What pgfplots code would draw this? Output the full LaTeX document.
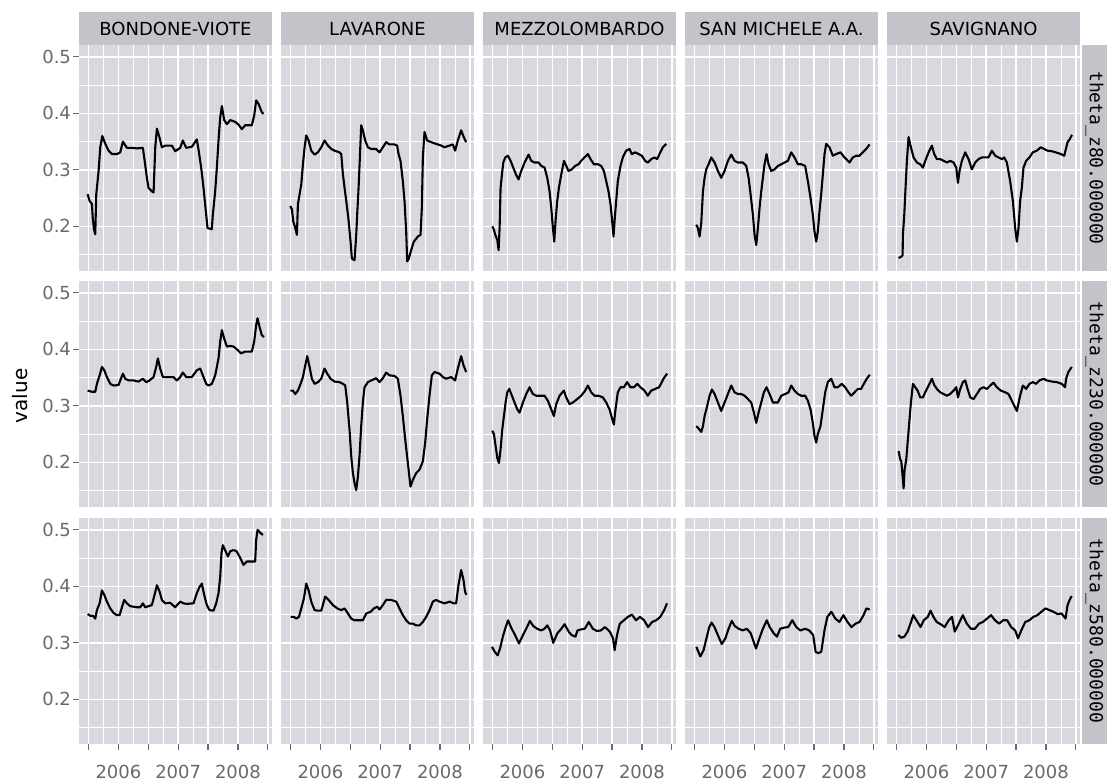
\documentclass[border=0pt]{standalone}
\usepackage{pgfplots}
\pgfplotsset{compat=1.18}
\usepackage{fontspec}
\setmainfont{DejaVu Sans}
\newfontfamily\monofont{DejaVu Sans Mono}
\definecolor{panelbg}{RGB}{217,216,222}
\definecolor{stripbg}{RGB}{196,195,202}
\definecolor{tickgray}{RGB}{105,105,105}
\pgfplotsset{
 panel/.style={
  scale only axis, width=96.5pt, height=113pt,
  anchor=south west,
  xmin=2005.34, xmax=2008.57, ymin=0.121, ymax=0.521,
  axis line style={draw=none},
  axis background/.style={fill=panelbg},
  xtick={2005.5,2006,2006.5,2007,2007.5,2008,2008.5},
  minor xtick={2005.75,2006.25,2006.75,2007.25,2007.75,2008.25},
  ytick={0.2,0.3,0.4,0.5},
  minor ytick={0.15,0.25,0.35,0.45},
  xticklabels={}, yticklabels={},
  grid=both,
  major grid style={draw=white, line width=0.75pt},
  minor grid style={draw=white, line width=0.35pt},
  tick align=outside, major tick length=3pt, minor tick length=0pt,
  xtick pos=left, ytick pos=left,
  xtick style={draw=none}, ytick style={draw=none},
  every minor tick/.append style={draw=none},
  tick label style={font=\fontsize{9pt}{10pt}\selectfont, text=tickgray},
  cycle list={{black, mark=none}},
  every axis plot post/.append style={draw=black, line width=1.05pt, line join=round},
 },
 leftcol/.style={yticklabels={0.2,0.3,0.4,0.5}, ytick style={draw=tickgray, line width=0.6pt}, yticklabel style={xshift=2.5pt}},
 bottomrow/.style={xticklabels={,2006,,2007,,2008,}, xtick style={draw=tickgray, line width=0.6pt}, xticklabel style={yshift=-4pt}},
}
\begin{document}
\begin{tikzpicture}
\useasboundingbox (0,0) rectangle (554pt,391.5pt);
% ---------- row 1: theta_z80 ----------
\begin{axis}[panel, leftcol, at={(39.5pt,256pt)}]
\addplot coordinates {(2005.484,0.257)(2005.517,0.245)(2005.556,0.240)(2005.570,0.215)(2005.590,0.195)(2005.612,0.186)(2005.629,0.257)(2005.668,0.298)(2005.696,0.340)(2005.730,0.360)(2005.780,0.346)(2005.835,0.334)(2005.891,0.328)(2005.974,0.328)(2006.030,0.331)(2006.075,0.350)(2006.142,0.339)(2006.225,0.339)(2006.309,0.338)(2006.409,0.339)(2006.431,0.322)(2006.476,0.286)(2006.504,0.268)(2006.560,0.262)(2006.588,0.260)(2006.616,0.340)(2006.644,0.373)(2006.688,0.357)(2006.727,0.340)(2006.783,0.343)(2006.894,0.343)(2006.950,0.333)(2007.034,0.339)(2007.078,0.352)(2007.134,0.339)(2007.229,0.341)(2007.312,0.354)(2007.340,0.336)(2007.385,0.304)(2007.424,0.268)(2007.457,0.233)(2007.491,0.197)(2007.563,0.195)(2007.580,0.221)(2007.619,0.262)(2007.647,0.304)(2007.675,0.352)(2007.703,0.393)(2007.731,0.413)(2007.770,0.388)(2007.815,0.381)(2007.870,0.388)(2007.954,0.385)(2008.010,0.380)(2008.065,0.372)(2008.121,0.379)(2008.232,0.379)(2008.272,0.396)(2008.305,0.423)(2008.344,0.417)(2008.400,0.402)(2008.428,0.399)};
\end{axis}
\begin{axis}[panel, at={(140.5pt,256pt)}]
\addplot coordinates {(2005.495,0.236)(2005.523,0.230)(2005.545,0.209)(2005.579,0.197)(2005.606,0.185)(2005.623,0.239)(2005.651,0.257)(2005.679,0.274)(2005.707,0.310)(2005.735,0.340)(2005.763,0.361)(2005.802,0.352)(2005.846,0.334)(2005.902,0.327)(2005.958,0.331)(2006.013,0.340)(2006.069,0.352)(2006.125,0.343)(2006.181,0.337)(2006.236,0.334)(2006.320,0.331)(2006.348,0.328)(2006.376,0.292)(2006.404,0.268)(2006.432,0.245)(2006.470,0.212)(2006.504,0.173)(2006.526,0.143)(2006.571,0.140)(2006.599,0.185)(2006.615,0.221)(2006.638,0.268)(2006.660,0.322)(2006.682,0.379)(2006.710,0.370)(2006.749,0.352)(2006.794,0.340)(2006.850,0.337)(2006.933,0.337)(2006.989,0.331)(2007.045,0.340)(2007.100,0.349)(2007.156,0.345)(2007.240,0.345)(2007.284,0.343)(2007.307,0.328)(2007.340,0.316)(2007.379,0.280)(2007.407,0.245)(2007.435,0.191)(2007.452,0.138)(2007.480,0.143)(2007.518,0.158)(2007.563,0.173)(2007.630,0.182)(2007.675,0.185)(2007.697,0.233)(2007.714,0.322)(2007.742,0.367)(2007.786,0.352)(2007.853,0.349)(2007.936,0.346)(2008.020,0.343)(2008.076,0.340)(2008.160,0.343)(2008.215,0.345)(2008.254,0.334)(2008.299,0.352)(2008.355,0.370)(2008.399,0.358)(2008.438,0.349)};
\end{axis}
\begin{axis}[panel, at={(241.5pt,256pt)}]
\addplot coordinates {(2005.495,0.200)(2005.523,0.194)(2005.545,0.185)(2005.579,0.176)(2005.601,0.158)(2005.618,0.197)(2005.634,0.268)(2005.657,0.292)(2005.679,0.313)(2005.712,0.322)(2005.757,0.325)(2005.802,0.316)(2005.846,0.304)(2005.891,0.292)(2005.935,0.283)(2005.980,0.298)(2006.036,0.313)(2006.103,0.327)(2006.147,0.316)(2006.203,0.313)(2006.270,0.313)(2006.315,0.307)(2006.371,0.304)(2006.415,0.286)(2006.454,0.262)(2006.482,0.233)(2006.510,0.197)(2006.532,0.173)(2006.554,0.209)(2006.582,0.245)(2006.610,0.268)(2006.650,0.292)(2006.695,0.316)(2006.734,0.307)(2006.771,0.298)(2006.827,0.301)(2006.883,0.307)(2006.939,0.310)(2006.983,0.316)(2007.039,0.322)(2007.095,0.328)(2007.140,0.319)(2007.195,0.310)(2007.262,0.310)(2007.318,0.307)(2007.363,0.298)(2007.402,0.280)(2007.440,0.262)(2007.474,0.239)(2007.502,0.209)(2007.524,0.182)(2007.546,0.215)(2007.569,0.245)(2007.596,0.280)(2007.641,0.307)(2007.680,0.322)(2007.736,0.334)(2007.791,0.337)(2007.831,0.328)(2007.887,0.331)(2007.943,0.328)(2007.998,0.325)(2008.054,0.316)(2008.098,0.313)(2008.154,0.319)(2008.210,0.322)(2008.254,0.319)(2008.294,0.328)(2008.349,0.340)(2008.405,0.346)};
\end{axis}
\begin{axis}[panel, at={(342.5pt,256pt)}]
\addplot coordinates {(2005.528,0.203)(2005.556,0.197)(2005.584,0.182)(2005.612,0.206)(2005.640,0.262)(2005.668,0.286)(2005.696,0.301)(2005.735,0.310)(2005.779,0.322)(2005.835,0.313)(2005.891,0.298)(2005.946,0.286)(2006.002,0.298)(2006.058,0.316)(2006.114,0.327)(2006.169,0.316)(2006.225,0.313)(2006.309,0.313)(2006.365,0.307)(2006.404,0.286)(2006.437,0.257)(2006.476,0.221)(2006.504,0.185)(2006.532,0.167)(2006.560,0.197)(2006.588,0.233)(2006.616,0.262)(2006.643,0.286)(2006.671,0.310)(2006.705,0.328)(2006.738,0.310)(2006.783,0.298)(2006.839,0.301)(2006.895,0.307)(2006.951,0.310)(2007.006,0.313)(2007.062,0.316)(2007.117,0.331)(2007.173,0.322)(2007.229,0.310)(2007.285,0.310)(2007.351,0.307)(2007.396,0.280)(2007.440,0.251)(2007.479,0.221)(2007.507,0.191)(2007.535,0.173)(2007.563,0.191)(2007.591,0.227)(2007.619,0.257)(2007.647,0.292)(2007.675,0.328)(2007.703,0.346)(2007.758,0.340)(2007.814,0.325)(2007.870,0.328)(2007.942,0.331)(2008.009,0.322)(2008.093,0.313)(2008.148,0.322)(2008.204,0.325)(2008.260,0.325)(2008.316,0.331)(2008.372,0.337)(2008.428,0.345)};
\end{axis}
\begin{axis}[panel, at={(443.5pt,256pt)}]
\addplot coordinates {(2005.534,0.144)(2005.573,0.146)(2005.601,0.149)(2005.606,0.185)(2005.629,0.221)(2005.645,0.257)(2005.673,0.316)(2005.701,0.358)(2005.740,0.340)(2005.785,0.322)(2005.841,0.313)(2005.896,0.310)(2005.941,0.304)(2005.980,0.316)(2006.036,0.331)(2006.091,0.343)(2006.130,0.328)(2006.175,0.319)(2006.231,0.319)(2006.287,0.316)(2006.342,0.313)(2006.398,0.316)(2006.454,0.313)(2006.499,0.304)(2006.527,0.277)(2006.554,0.298)(2006.593,0.316)(2006.649,0.331)(2006.705,0.319)(2006.760,0.301)(2006.816,0.313)(2006.872,0.319)(2006.928,0.322)(2006.983,0.322)(2007.039,0.322)(2007.095,0.334)(2007.151,0.325)(2007.206,0.322)(2007.262,0.319)(2007.301,0.322)(2007.346,0.313)(2007.401,0.280)(2007.446,0.245)(2007.485,0.197)(2007.513,0.173)(2007.541,0.197)(2007.568,0.245)(2007.596,0.268)(2007.624,0.304)(2007.669,0.316)(2007.724,0.322)(2007.780,0.331)(2007.847,0.334)(2007.914,0.340)(2007.969,0.337)(2008.025,0.334)(2008.098,0.333)(2008.163,0.331)(2008.250,0.328)(2008.306,0.325)(2008.334,0.337)(2008.362,0.349)(2008.401,0.355)(2008.435,0.362)};
\end{axis}
% ---------- row 2: theta_z230 ----------
\begin{axis}[panel, leftcol, at={(39.5pt,138pt)}]
\addplot coordinates {(2005.484,0.327)(2005.556,0.325)(2005.612,0.325)(2005.640,0.339)(2005.685,0.354)(2005.724,0.369)(2005.763,0.363)(2005.807,0.351)(2005.863,0.339)(2005.919,0.336)(2006.002,0.337)(2006.041,0.348)(2006.075,0.357)(2006.114,0.348)(2006.170,0.345)(2006.253,0.345)(2006.336,0.343)(2006.409,0.348)(2006.464,0.342)(2006.520,0.345)(2006.588,0.351)(2006.632,0.369)(2006.660,0.384)(2006.699,0.366)(2006.744,0.351)(2006.811,0.351)(2006.922,0.351)(2006.978,0.345)(2007.034,0.351)(2007.078,0.359)(2007.134,0.351)(2007.229,0.351)(2007.312,0.363)(2007.368,0.366)(2007.413,0.354)(2007.468,0.339)(2007.507,0.336)(2007.563,0.339)(2007.619,0.354)(2007.675,0.384)(2007.703,0.414)(2007.731,0.434)(2007.770,0.419)(2007.815,0.405)(2007.870,0.406)(2007.926,0.405)(2007.993,0.399)(2008.049,0.393)(2008.121,0.396)(2008.232,0.396)(2008.272,0.414)(2008.305,0.443)(2008.328,0.455)(2008.361,0.440)(2008.400,0.425)(2008.439,0.422)};
\end{axis}
\begin{axis}[panel, at={(140.5pt,138pt)}]
\addplot coordinates {(2005.495,0.327)(2005.540,0.327)(2005.579,0.321)(2005.623,0.327)(2005.668,0.339)(2005.707,0.351)(2005.735,0.366)(2005.779,0.388)(2005.818,0.369)(2005.857,0.348)(2005.902,0.339)(2005.958,0.342)(2006.013,0.348)(2006.069,0.366)(2006.114,0.357)(2006.170,0.348)(2006.236,0.343)(2006.320,0.342)(2006.376,0.339)(2006.415,0.336)(2006.448,0.306)(2006.487,0.258)(2006.515,0.211)(2006.543,0.181)(2006.571,0.163)(2006.599,0.151)(2006.627,0.175)(2006.654,0.211)(2006.682,0.264)(2006.710,0.306)(2006.738,0.333)(2006.794,0.342)(2006.850,0.345)(2006.933,0.349)(2006.989,0.342)(2007.045,0.349)(2007.100,0.359)(2007.156,0.354)(2007.240,0.353)(2007.296,0.348)(2007.340,0.318)(2007.379,0.282)(2007.418,0.241)(2007.463,0.199)(2007.507,0.157)(2007.546,0.169)(2007.602,0.181)(2007.658,0.187)(2007.714,0.202)(2007.753,0.235)(2007.786,0.276)(2007.825,0.318)(2007.864,0.354)(2007.909,0.360)(2007.992,0.357)(2008.048,0.351)(2008.104,0.348)(2008.188,0.351)(2008.254,0.345)(2008.299,0.366)(2008.355,0.388)(2008.394,0.372)(2008.438,0.360)};
\end{axis}
\begin{axis}[panel, at={(241.5pt,138pt)}]
\addplot coordinates {(2005.495,0.256)(2005.523,0.250)(2005.551,0.229)(2005.579,0.208)(2005.607,0.199)(2005.634,0.223)(2005.662,0.258)(2005.690,0.282)(2005.718,0.306)(2005.746,0.324)(2005.779,0.330)(2005.824,0.318)(2005.868,0.306)(2005.913,0.294)(2005.952,0.288)(2006.008,0.306)(2006.064,0.321)(2006.119,0.333)(2006.175,0.321)(2006.231,0.318)(2006.303,0.318)(2006.370,0.318)(2006.426,0.309)(2006.482,0.294)(2006.526,0.282)(2006.565,0.303)(2006.621,0.318)(2006.693,0.327)(2006.732,0.315)(2006.788,0.303)(2006.844,0.306)(2006.916,0.312)(2006.983,0.318)(2007.050,0.327)(2007.095,0.336)(2007.151,0.324)(2007.206,0.318)(2007.273,0.318)(2007.346,0.315)(2007.402,0.306)(2007.457,0.294)(2007.496,0.279)(2007.530,0.267)(2007.558,0.294)(2007.596,0.324)(2007.641,0.333)(2007.697,0.333)(2007.752,0.342)(2007.808,0.333)(2007.864,0.333)(2007.920,0.339)(2007.975,0.333)(2008.042,0.327)(2008.098,0.318)(2008.154,0.327)(2008.221,0.330)(2008.288,0.333)(2008.332,0.342)(2008.366,0.349)(2008.422,0.357)};
\end{axis}
\begin{axis}[panel, at={(342.5pt,138pt)}]
\addplot coordinates {(2005.528,0.264)(2005.567,0.260)(2005.612,0.254)(2005.640,0.264)(2005.668,0.282)(2005.712,0.300)(2005.751,0.318)(2005.790,0.329)(2005.835,0.321)(2005.891,0.306)(2005.946,0.291)(2006.002,0.306)(2006.058,0.321)(2006.114,0.336)(2006.169,0.324)(2006.225,0.321)(2006.281,0.321)(2006.337,0.318)(2006.392,0.312)(2006.448,0.306)(2006.493,0.288)(2006.532,0.270)(2006.571,0.288)(2006.616,0.306)(2006.660,0.324)(2006.705,0.333)(2006.755,0.321)(2006.811,0.306)(2006.895,0.306)(2006.951,0.318)(2007.017,0.321)(2007.073,0.324)(2007.117,0.336)(2007.173,0.327)(2007.229,0.321)(2007.285,0.318)(2007.351,0.318)(2007.396,0.309)(2007.440,0.294)(2007.479,0.270)(2007.507,0.247)(2007.535,0.235)(2007.563,0.250)(2007.607,0.264)(2007.647,0.294)(2007.686,0.324)(2007.730,0.342)(2007.786,0.348)(2007.842,0.333)(2007.898,0.333)(2007.964,0.339)(2008.020,0.333)(2008.076,0.324)(2008.120,0.318)(2008.176,0.324)(2008.232,0.330)(2008.288,0.330)(2008.332,0.339)(2008.382,0.348)(2008.432,0.355)};
\end{axis}
\begin{axis}[panel, at={(443.5pt,138pt)}]
\addplot coordinates {(2005.534,0.220)(2005.562,0.205)(2005.579,0.202)(2005.601,0.175)(2005.618,0.154)(2005.634,0.187)(2005.662,0.205)(2005.685,0.235)(2005.712,0.270)(2005.740,0.306)(2005.774,0.339)(2005.813,0.333)(2005.852,0.327)(2005.896,0.315)(2005.941,0.315)(2005.980,0.324)(2006.036,0.336)(2006.091,0.348)(2006.130,0.337)(2006.175,0.330)(2006.231,0.324)(2006.287,0.321)(2006.342,0.318)(2006.398,0.321)(2006.454,0.327)(2006.499,0.333)(2006.527,0.315)(2006.566,0.330)(2006.610,0.342)(2006.649,0.345)(2006.688,0.330)(2006.733,0.315)(2006.788,0.312)(2006.844,0.321)(2006.899,0.330)(2006.955,0.333)(2007.011,0.330)(2007.067,0.336)(2007.122,0.341)(2007.178,0.333)(2007.245,0.327)(2007.318,0.324)(2007.373,0.321)(2007.429,0.309)(2007.513,0.291)(2007.568,0.318)(2007.613,0.336)(2007.669,0.330)(2007.724,0.339)(2007.780,0.342)(2007.836,0.339)(2007.891,0.345)(2007.958,0.348)(2008.014,0.345)(2008.098,0.343)(2008.181,0.342)(2008.265,0.339)(2008.320,0.333)(2008.337,0.348)(2008.376,0.360)(2008.432,0.369)};
\end{axis}
% ---------- row 3: theta_z580 ----------
\begin{axis}[panel, leftcol, bottomrow, at={(39.5pt,19.5pt)}]
\addplot coordinates {(2005.484,0.351)(2005.528,0.348)(2005.573,0.348)(2005.612,0.343)(2005.640,0.358)(2005.685,0.370)(2005.724,0.393)(2005.763,0.385)(2005.807,0.373)(2005.863,0.361)(2005.919,0.353)(2005.974,0.349)(2006.019,0.349)(2006.058,0.363)(2006.097,0.376)(2006.142,0.370)(2006.197,0.365)(2006.253,0.364)(2006.309,0.363)(2006.365,0.363)(2006.409,0.370)(2006.448,0.363)(2006.504,0.365)(2006.560,0.367)(2006.604,0.385)(2006.644,0.402)(2006.688,0.391)(2006.727,0.376)(2006.783,0.370)(2006.866,0.371)(2006.950,0.363)(2007.034,0.373)(2007.089,0.370)(2007.145,0.369)(2007.257,0.370)(2007.312,0.388)(2007.357,0.399)(2007.396,0.405)(2007.435,0.385)(2007.479,0.367)(2007.524,0.358)(2007.591,0.357)(2007.636,0.370)(2007.675,0.388)(2007.703,0.417)(2007.725,0.459)(2007.747,0.473)(2007.786,0.464)(2007.831,0.453)(2007.870,0.462)(2007.915,0.464)(2007.971,0.463)(2008.010,0.456)(2008.049,0.448)(2008.093,0.438)(2008.149,0.444)(2008.232,0.444)(2008.288,0.444)(2008.305,0.482)(2008.328,0.500)(2008.372,0.495)(2008.417,0.491)};
\end{axis}
\begin{axis}[panel, bottomrow, at={(140.5pt,19.5pt)}]
\addplot coordinates {(2005.500,0.346)(2005.556,0.346)(2005.595,0.343)(2005.640,0.346)(2005.679,0.361)(2005.724,0.379)(2005.763,0.405)(2005.802,0.393)(2005.846,0.373)(2005.902,0.358)(2005.958,0.357)(2006.013,0.357)(2006.041,0.367)(2006.080,0.382)(2006.136,0.376)(2006.209,0.367)(2006.281,0.361)(2006.348,0.358)(2006.404,0.361)(2006.460,0.352)(2006.515,0.343)(2006.571,0.340)(2006.655,0.340)(2006.711,0.340)(2006.766,0.352)(2006.839,0.355)(2006.895,0.361)(2006.950,0.364)(2006.989,0.359)(2007.045,0.367)(2007.100,0.376)(2007.184,0.376)(2007.268,0.373)(2007.323,0.361)(2007.379,0.349)(2007.435,0.340)(2007.491,0.334)(2007.547,0.334)(2007.602,0.331)(2007.658,0.331)(2007.714,0.337)(2007.770,0.346)(2007.826,0.358)(2007.881,0.373)(2007.937,0.376)(2007.993,0.373)(2008.076,0.370)(2008.160,0.373)(2008.232,0.370)(2008.271,0.370)(2008.310,0.402)(2008.355,0.429)(2008.395,0.411)(2008.420,0.391)(2008.440,0.385)};
\end{axis}
\begin{axis}[panel, bottomrow, at={(241.5pt,19.5pt)}]
\addplot coordinates {(2005.490,0.293)(2005.537,0.284)(2005.585,0.278)(2005.625,0.290)(2005.672,0.311)(2005.720,0.328)(2005.760,0.340)(2005.807,0.328)(2005.875,0.314)(2005.942,0.299)(2006.010,0.314)(2006.077,0.328)(2006.125,0.339)(2006.179,0.330)(2006.246,0.325)(2006.314,0.322)(2006.368,0.325)(2006.415,0.331)(2006.462,0.322)(2006.516,0.300)(2006.584,0.317)(2006.651,0.325)(2006.705,0.333)(2006.773,0.320)(2006.820,0.314)(2006.888,0.311)(2006.921,0.322)(2006.989,0.324)(2007.043,0.325)(2007.110,0.337)(2007.178,0.325)(2007.246,0.321)(2007.313,0.322)(2007.381,0.328)(2007.462,0.320)(2007.516,0.308)(2007.543,0.287)(2007.583,0.314)(2007.630,0.334)(2007.698,0.340)(2007.765,0.346)(2007.833,0.350)(2007.900,0.340)(2007.968,0.346)(2008.036,0.340)(2008.103,0.328)(2008.171,0.337)(2008.238,0.340)(2008.306,0.346)(2008.373,0.358)(2008.420,0.370)};
\end{axis}
\begin{axis}[panel, bottomrow, at={(342.5pt,19.5pt)}]
\addplot coordinates {(2005.530,0.293)(2005.564,0.284)(2005.597,0.276)(2005.651,0.287)(2005.699,0.308)(2005.746,0.328)(2005.786,0.336)(2005.833,0.328)(2005.901,0.311)(2005.955,0.298)(2006.016,0.308)(2006.069,0.325)(2006.123,0.339)(2006.171,0.330)(2006.238,0.325)(2006.305,0.322)(2006.373,0.325)(2006.440,0.317)(2006.528,0.290)(2006.575,0.305)(2006.643,0.325)(2006.710,0.340)(2006.757,0.328)(2006.825,0.317)(2006.879,0.311)(2006.933,0.325)(2007.000,0.327)(2007.067,0.328)(2007.135,0.340)(2007.202,0.328)(2007.270,0.322)(2007.351,0.325)(2007.418,0.322)(2007.485,0.314)(2007.526,0.284)(2007.566,0.282)(2007.620,0.284)(2007.674,0.322)(2007.722,0.346)(2007.789,0.355)(2007.856,0.343)(2007.924,0.337)(2007.991,0.349)(2008.059,0.337)(2008.126,0.328)(2008.194,0.334)(2008.261,0.337)(2008.328,0.349)(2008.376,0.361)(2008.430,0.359)};
\end{axis}
\begin{axis}[panel, bottomrow, at={(443.5pt,19.5pt)}]
\addplot coordinates {(2005.530,0.314)(2005.577,0.309)(2005.631,0.311)(2005.685,0.320)(2005.732,0.334)(2005.779,0.349)(2005.833,0.340)(2005.901,0.328)(2005.955,0.340)(2006.022,0.346)(2006.069,0.357)(2006.117,0.346)(2006.171,0.337)(2006.238,0.333)(2006.305,0.328)(2006.373,0.340)(2006.427,0.346)(2006.474,0.320)(2006.541,0.334)(2006.609,0.349)(2006.676,0.334)(2006.744,0.325)(2006.811,0.325)(2006.879,0.334)(2006.946,0.337)(2007.013,0.343)(2007.081,0.349)(2007.148,0.340)(2007.216,0.334)(2007.283,0.340)(2007.351,0.340)(2007.418,0.328)(2007.485,0.322)(2007.533,0.308)(2007.587,0.322)(2007.654,0.337)(2007.722,0.340)(2007.789,0.346)(2007.856,0.349)(2007.924,0.355)(2007.991,0.361)(2008.059,0.358)(2008.126,0.355)(2008.194,0.351)(2008.261,0.352)(2008.328,0.343)(2008.362,0.367)(2008.396,0.376)(2008.430,0.383)};
\end{axis}
% ---------- strips ----------
\fill[stripbg] (39.5pt,369pt) rectangle (136pt,385.5pt);
\fill[stripbg] (140.5pt,369pt) rectangle (237pt,385.5pt);
\fill[stripbg] (241.5pt,369pt) rectangle (338pt,385.5pt);
\fill[stripbg] (342.5pt,369pt) rectangle (439pt,385.5pt);
\fill[stripbg] (443.5pt,369pt) rectangle (540pt,385.5pt);
\node[font=\fontsize{9pt}{10pt}\selectfont] at (87.75pt,377.25pt) {BONDONE-VIOTE};
\node[font=\fontsize{9pt}{10pt}\selectfont] at (188.75pt,377.25pt) {LAVARONE};
\node[font=\fontsize{9pt}{10pt}\selectfont] at (289.75pt,377.25pt) {MEZZOLOMBARDO};
\node[font=\fontsize{9pt}{10pt}\selectfont] at (390.75pt,377.25pt) {SAN MICHELE A.A.};
\node[font=\fontsize{9pt}{10pt}\selectfont] at (491.75pt,377.25pt) {SAVIGNANO};
\fill[stripbg] (541pt,256pt) rectangle (553.5pt,369pt);
\fill[stripbg] (541pt,138pt) rectangle (553.5pt,251pt);
\fill[stripbg] (541pt,19.5pt) rectangle (553.5pt,132.5pt);
\node[rotate=-90, font=\monofont\fontsize{9pt}{10pt}\selectfont] at (547.25pt,312.5pt) {theta\_z80.000000};
\node[rotate=-90, font=\monofont\fontsize{9pt}{10pt}\selectfont] at (547.25pt,194.5pt) {theta\_z230.000000};
\node[rotate=-90, font=\monofont\fontsize{9pt}{10pt}\selectfont] at (547.25pt,76pt) {theta\_z580.000000};
\node[rotate=90, font=\fontsize{10pt}{12pt}\selectfont] at (10pt,193.5pt) {value};
\end{tikzpicture}
\end{document}
